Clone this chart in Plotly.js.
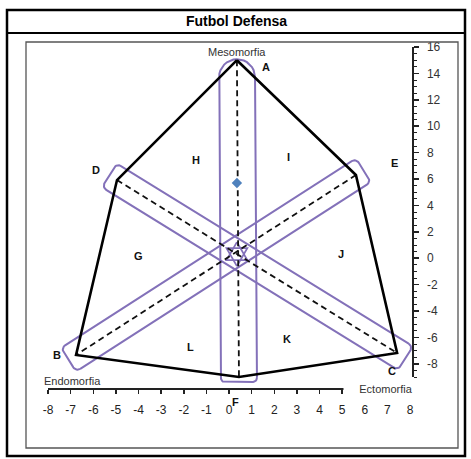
<!DOCTYPE html>
<html><head><meta charset="utf-8">
<script src="https://cdn.plot.ly/plotly-3.0.1.min.js"></script>
<style>html,body{margin:0;padding:0;background:#fff}#chart{width:471px;height:459px}</style>
</head><body><div id="chart"></div>
<script>
// ---- data (displayed axis units) ----
const vertexNames = ['A', 'E', 'C', 'F', 'B', 'D'];
const vertexX = [0.35, 5.61, 7.43, 0.44, -6.76, -4.95];
const vertexY = [15.0, 6.3, -7.18, -9.0, -7.33, 5.92];
const axisLinePairs = [['A', 'F'], ['D', 'C'], ['E', 'B']];
const zoneNames = ['G', 'H', 'I', 'J', 'K', 'L'];
const zoneX = [-3.98, -1.46, 2.61, 4.95, 2.56, -1.68];
const zoneY = [0.17, 7.44, 7.67, 0.32, -6.12, -6.73];
const athleteX = [0.35];
const athleteY = [5.7];
const xTickVals = [-8, -7, -6, -5, -4, -3, -2, -1, 0, 1, 2, 3, 4, 5, 6, 7, 8];
const xTickText = ['-8', '-7', '-6', '-5', '-4', '-3', '-2', '-1', '0', '1', '2', '3', '4', '5', '6', '7', '8'];
const yTickVals = [-8, -6, -4, -2, 0, 2, 4, 6, 8, 10, 12, 14, 16];
const yTickText = ['-8', '-6', '-4', '-2', '0', '2', '4', '6', '8', '10', '12', '14', '16'];

// ---- layout geometry (pixels) ----
const W = 471, H = 459;
const X0PIX = 48, X1PIX = 410;      // x axis -8 .. 8
const YTOPPIX = 47, YBOTPIX = 377;  // y axis 16 .. -9
const XAXIS_Y = 388, YAXIS_X = 412;
const sx = (X1PIX - X0PIX) / 16, sy = (YBOTPIX - YTOPPIX) / 25;
const px = v => X0PIX + (v + 8) * sx;
const py = v => YTOPPIX + (16 - v) * sy;
const vx = p => (p - X0PIX) / sx - 8;
const vy = p => 16 - (p - YTOPPIX) / sy;

const FONT = 'Liberation Sans, Arial, sans-serif';
const PURPLE = '#8371b9';

function vtx(name) { const i = vertexNames.indexOf(name); return [px(vertexX[i]), py(vertexY[i])]; }

function roundedRect(p1, p2, half, e1, e2, r1, r2) {
  const dx = p2[0] - p1[0], dy = p2[1] - p1[1], L = Math.hypot(dx, dy);
  const u = [dx / L, dy / L], n = [-u[1], u[0]];
  const s = [p1[0] - u[0] * e1, p1[1] - u[1] * e1];
  const Len = L + e1 + e2;
  const loc = [];
  const arc = (ca, cb, r, a0, a1) => { for (let k = 0; k <= 8; k++) { const t = (a0 + (a1 - a0) * k / 8) * Math.PI / 180; loc.push([ca + r * Math.cos(t), cb + r * Math.sin(t)]); } };
  arc(Len - r2, -half + r2, r2, -90, 0);
  arc(Len - r2, half - r2, r2, 0, 90);
  arc(r1, half - r1, r1, 90, 180);
  arc(r1, -half + r1, r1, 180, 270);
  loc.push(loc[0]);
  const xs = [], ys = [];
  loc.forEach(([a, b]) => { xs.push(vx(s[0] + u[0] * a + n[0] * b)); ys.push(vy(s[1] + u[1] * a + n[1] * b)); });
  return {xs, ys};
}

const traces = [];
// capsules
const capsSpec = [
  {pair: ['A', 'F'], half: 18, e1: 1, e2: 5, r1: 18, r2: 4},
  {pair: ['D', 'C'], half: 14, e1: 9, e2: 10, r1: 5, r2: 5},
  {pair: ['E', 'B'], half: 14, e1: 9, e2: 9, r1: 5, r2: 5}
];
capsSpec.forEach(c => {
  const r = roundedRect(vtx(c.pair[0]), vtx(c.pair[1]), c.half, c.e1, c.e2, c.r1, c.r2);
  traces.push({x: r.xs, y: r.ys, mode: 'lines', line: {color: PURPLE, width: 2}, hoverinfo: 'skip', showlegend: false});
});
// centre cluster (intersection of A-F and D-C)
(function () {
  const a = vtx('A'), d = vtx('D'), c = vtx('C');
  const t = (a[0] - d[0]) / (c[0] - d[0]);
  const cx = a[0], cy = d[1] + t * (c[1] - d[1]);
  [[-90, 30, 150, -90], [90, 210, 330, 90]].forEach(angs => {
    traces.push({x: angs.map(g => vx(cx + 12 * Math.cos(g * Math.PI / 180))), y: angs.map(g => vy(cy + 12 * Math.sin(g * Math.PI / 180))),
      mode: 'lines', line: {color: PURPLE, width: 1.8}, hoverinfo: 'skip', showlegend: false});
  });
})();
// dashed axes
axisLinePairs.forEach(([p, q]) => {
  const i = vertexNames.indexOf(p), j = vertexNames.indexOf(q);
  traces.push({x: [vertexX[i], vertexX[j]], y: [vertexY[i], vertexY[j]], mode: 'lines',
    line: {color: '#111', width: 1.8, dash: '6px,4px'}, hoverinfo: 'skip', showlegend: false});
});
// outline polygon
traces.push({x: vertexX.concat([vertexX[0]]), y: vertexY.concat([vertexY[0]]), mode: 'lines',
  line: {color: '#000', width: 2.6}, hoverinfo: 'skip', showlegend: false});
// athlete point
traces.push({x: athleteX, y: athleteY, mode: 'markers', marker: {symbol: 'diamond', size: 8, color: '#4f81bd'}, showlegend: false});
// dummy trace for the visible axes subplot
traces.push({x: [0], y: [0], xaxis: 'x2', yaxis: 'y2', mode: 'markers', marker: {opacity: 0}, hoverinfo: 'skip', showlegend: false});

const annotations = [];
const vOff = {A: [29, -7], E: [39, 12], C: [-5, -18], F: [-3, -25], B: [-19, 0], D: [-21, 10]};
vertexNames.forEach((nm, i) => {
  annotations.push({x: vertexX[i], y: vertexY[i], xref: 'x', yref: 'y', xanchor: 'center', yanchor: 'middle', text: '<b>' + nm + '</b>', showarrow: false,
    xshift: vOff[nm][0], yshift: vOff[nm][1], font: {family: FONT, size: 11, color: '#111'}});
});
zoneNames.forEach((nm, i) => {
  annotations.push({x: zoneX[i], y: zoneY[i], xref: 'x', yref: 'y', xanchor: 'center', yanchor: 'middle', text: '<b>' + nm + '</b>', showarrow: false,
    font: {family: FONT, size: 11, color: '#111'}});
});
const pap = (x, y) => ({x: x / W, y: 1 - y / H, xref: 'paper', yref: 'paper', xanchor: 'center', yanchor: 'middle'});
annotations.push(Object.assign(pap(237, 52), {text: 'Mesomorfia', showarrow: false, font: {family: FONT, size: 11, color: '#333'}}));
annotations.push(Object.assign(pap(72, 381), {text: 'Endomorfia', showarrow: false, font: {family: FONT, size: 11, color: '#333'}}));
annotations.push(Object.assign(pap(386, 389), {text: 'Ectomorfia', showarrow: false, width: 82, height: 16, bgcolor: '#fff', font: {family: FONT, size: 11, color: '#333'}}));
annotations.push(Object.assign(pap(236, 21), {text: '<b>Futbol Defensa</b>', showarrow: false, font: {family: FONT, size: 14, color: '#000'}}));

const shapes = [
  {type: 'rect', xref: 'paper', yref: 'paper', x0: 7 / W, x1: 465 / W, y0: 1 - 10 / H, y1: 1 - 456 / H, line: {color: '#000', width: 2.5}},
  {type: 'line', xref: 'paper', yref: 'paper', x0: 7 / W, x1: 465 / W, y0: 1 - 33 / H, y1: 1 - 33 / H, line: {color: '#000', width: 2}},
  {type: 'rect', xref: 'paper', yref: 'paper', x0: 26 / W, x1: 458 / W, y0: 1 - 42 / H, y1: 1 - 448 / H, line: {color: '#555', width: 1.3}}
];

const layout = {
  width: W, height: H, margin: {l: 0, r: 0, t: 0, b: 0},
  paper_bgcolor: '#fff', plot_bgcolor: 'rgba(0,0,0,0)', showlegend: false,
  xaxis: {domain: [0, 1], range: [vx(0), vx(W)], visible: false, fixedrange: true},
  yaxis: {domain: [0, 1], range: [vy(H), vy(0)], visible: false, fixedrange: true},
  xaxis2: {domain: [X0PIX / W, X1PIX / W], range: [-8, 8], anchor: 'free', position: 1 - XAXIS_Y / H,
    showline: true, linecolor: '#222', linewidth: 1.5, ticks: 'outside', ticklen: 4, tickwidth: 1.5, tickcolor: '#222',
    tickvals: xTickVals, ticktext: xTickText, ticklabelstandoff: 6, tickfont: {family: FONT, size: 12, color: '#222'},
    showgrid: false, zeroline: false, fixedrange: true},
  yaxis2: {domain: [1 - YBOTPIX / H, 1 - YTOPPIX / H], range: [-9, 16], anchor: 'free', position: YAXIS_X / W, side: 'right',
    showline: true, linecolor: '#222', linewidth: 1.5, ticks: 'outside', ticklen: 5, tickwidth: 1.5, tickcolor: '#222',
    tickvals: yTickVals, ticktext: yTickText, ticklabelstandoff: 6, tickfont: {family: FONT, size: 12, color: '#333'},
    minor: {tickvals: Array.from({length: 51}, (_, k) => -9 + k * 0.5), ticks: 'outside', ticklen: 3, tickwidth: 1, tickcolor: '#222'},
    showgrid: false, zeroline: false, fixedrange: true},
  shapes, annotations
};
Plotly.newPlot('chart', traces, layout, {staticPlot: true, displayModeBar: false});
</script></body></html>
